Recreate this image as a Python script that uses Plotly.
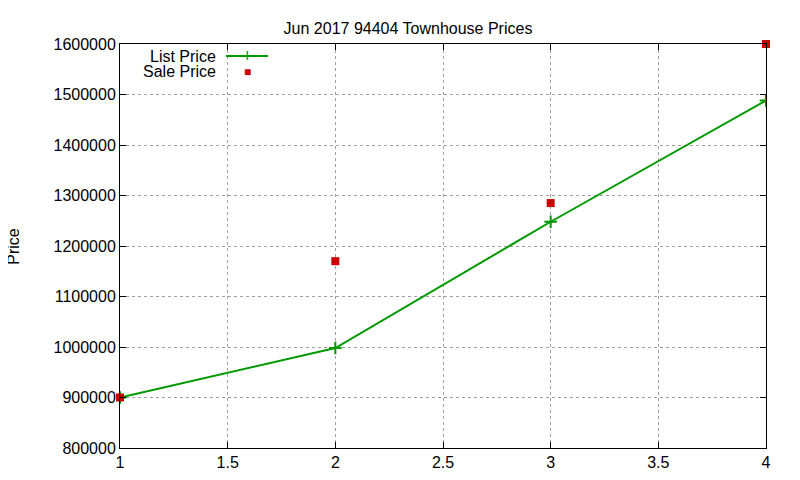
import plotly.graph_objects as go

x_vals = [1, 2, 3, 4]
list_price = [900000, 998000, 1248000, 1488000]
sale_price = [900000, 1170000, 1285000, 1600000]
x_ticks = [1, 1.5, 2, 2.5, 3, 3.5, 4]
y_ticks = list(range(800000, 1600001, 100000))

fig = go.Figure()
fig.add_trace(go.Scatter(x=x_vals, y=list_price, mode="lines+markers", name="List Price",
                         line=dict(color="#009900", width=2),
                         marker=dict(symbol="cross-thin", size=9, line=dict(color="#009900", width=2))))
fig.add_trace(go.Scatter(x=x_vals, y=sale_price, mode="markers", name="Sale Price",
                         marker=dict(symbol="square", size=8, color="#cc0000"), cliponaxis=False))

axis = dict(showline=True, mirror="ticks", linecolor="black", linewidth=1, ticks="inside",
            ticklen=6, tickcolor="black", showgrid=True, gridcolor="#a0a0a0", griddash="dot",
            zeroline=False, tickfont=dict(size=16, color="black"))
fig.update_xaxes(range=[1, 4], tickvals=x_ticks, ticktext=[str(t) for t in x_ticks], **axis)
fig.update_yaxes(range=[800000, 1600000], tickvals=y_ticks, ticktext=[str(t) for t in y_ticks], **axis)

fig.update_layout(
    width=800, height=480, showlegend=False,
    margin=dict(l=112, r=42, t=36, b=40),
    paper_bgcolor="white", plot_bgcolor="white",
    font=dict(family="Liberation Sans, Arial", size=16, color="black"),
    title=dict(text="Jun 2017 94404 Townhouse Prices", x=0.5, xanchor="center", y=0.958, yanchor="middle",
               font=dict(size=16)),
    annotations=[
        dict(text="Price", x=-0.166, y=0.5, xref="paper", yref="paper", textangle=-90,
             showarrow=False, font=dict(size=16), xanchor="center", yanchor="middle"),
        dict(text="List Price", x=0.152, y=0.970, xref="paper", yref="paper", xanchor="right",
             yanchor="middle", showarrow=False, font=dict(size=16)),
        dict(text="Sale Price", x=0.152, y=0.931, xref="paper", yref="paper", xanchor="right",
             yanchor="middle", showarrow=False, font=dict(size=16)),
        dict(text="+", x=0.197, y=0.970, xref="paper", yref="paper", showarrow=False,
             xanchor="center", yanchor="middle", font=dict(size=18, color="#009900")),
        dict(text="■", x=0.197, y=0.931, xref="paper", yref="paper", showarrow=False,
             xanchor="center", yanchor="middle", font=dict(size=12, color="#cc0000")),
    ],
    shapes=[dict(type="line", xref="paper", yref="paper", x0=0.164, x1=0.229, y0=0.970, y1=0.970,
                 line=dict(color="#009900", width=2))],
)
fig.write_html("out.html")
